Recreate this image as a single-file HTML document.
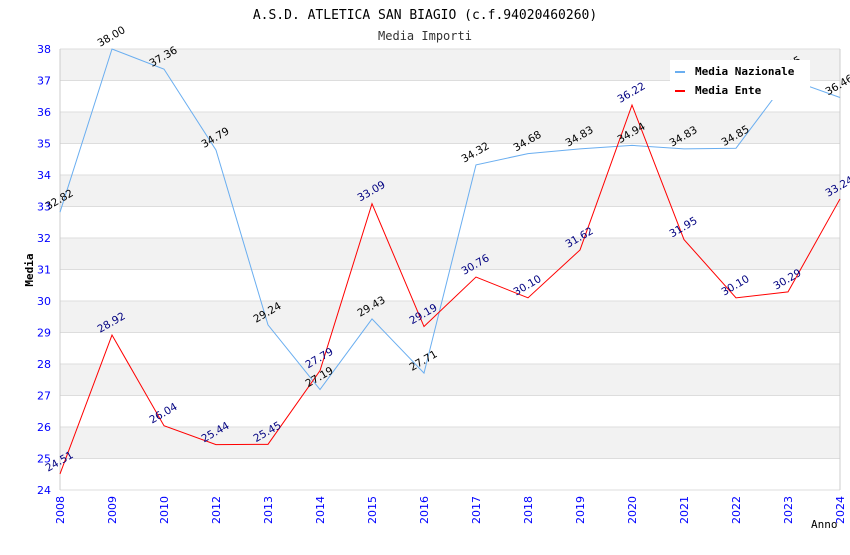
<!DOCTYPE html>
<html><head><meta charset="utf-8"><style>
body{margin:0;background:#fff;}
svg{font-family:"DejaVu Sans","Liberation Sans",sans-serif;}
</style></head><body>
<svg id="chart" width="850" height="550">
<text x="425" y="19" text-anchor="middle" font-family="DejaVu Sans Mono, Liberation Mono, monospace" font-size="13" fill="#000">A.S.D. ATLETICA SAN BIAGIO (c.f.94020460260)</text>
<text x="425" y="40" text-anchor="middle" font-family="DejaVu Sans Mono, Liberation Mono, monospace" font-size="12" fill="#333">Media Importi</text>
<g id="bands"></g><g id="axes"></g><g id="series"></g><g id="labels"></g>
<g>
<rect x="670" y="60" width="140" height="40" fill="#fff"/>
<line x1="675" y1="72" x2="685" y2="72" stroke="#6aaef0" stroke-width="2"/>
<text x="695" y="75" font-family="DejaVu Sans Mono, Liberation Mono, monospace" font-size="11" font-weight="bold">Media Nazionale</text>
<line x1="675" y1="91" x2="685" y2="91" stroke="#f00" stroke-width="2"/>
<text x="695" y="94" font-family="DejaVu Sans Mono, Liberation Mono, monospace" font-size="11" font-weight="bold">Media Ente</text>
</g>
<text x="33" y="270" transform="rotate(-90 33 270)" text-anchor="middle" font-family="DejaVu Sans Mono, Liberation Mono, monospace" font-size="11" font-weight="bold">Media</text>
<text x="811" y="528" font-family="DejaVu Sans Mono, Liberation Mono, monospace" font-size="11">Anno</text>
</svg>
<script>
const years=["2008","2009","2010","2012","2013","2014","2015","2016","2017","2018","2019","2020","2021","2022","2023","2024"];
const nazionale=[32.82,38.00,37.36,34.79,29.24,27.19,29.43,27.71,34.32,34.68,34.83,34.94,34.83,34.85,37.05,36.46];
const ente=[24.51,28.92,26.04,25.44,25.45,27.79,33.09,29.19,30.76,30.10,31.62,36.22,31.95,30.10,30.29,33.24];
const yTicks=[24,25,26,27,28,29,30,31,32,33,34,35,36,37,38];
const NS="http://www.w3.org/2000/svg";
const X0=60,X1=840,Y0=490,Y1=49,ymin=24,ymax=38;
const xs=i=>X0+i*(X1-X0)/(years.length-1);
const ys=v=>Y0-(v-ymin)*(Y0-Y1)/(ymax-ymin);
function mk(p,t,a){const e=document.createElementNS(NS,t);for(const k in a)e.setAttribute(k,a[k]);p.appendChild(e);return e;}
const bands=document.getElementById('bands'),axes=document.getElementById('axes'),series=document.getElementById('series'),labels=document.getElementById('labels');
for(let i=0;i<yTicks.length-1;i++){
  const a=yTicks[i],b=yTicks[i+1];
  const r=mk(bands,'rect',{x:X0,y:ys(b),width:X1-X0,height:ys(a)-ys(b),fill:(yTicks.length-2-i)%2===0?'#f2f2f2':'#fff'});
  
  
}
yTicks.forEach(v=>{
  const l=mk(axes,'line',{x1:X0,x2:X1,y1:ys(v),y2:ys(v),stroke:'#ddd'});
  
  
  const t=mk(axes,'text',{x:X0-9,y:ys(v)+4,'text-anchor':'end','font-size':11,fill:'#00f'});
  t.textContent=v;
  
  
});
mk(axes,'line',{x1:X0,x2:X0,y1:Y1,y2:Y0,stroke:'#ccc'});
mk(axes,'line',{x1:X1,x2:X1,y1:Y1,y2:Y0,stroke:'#ccc'});
years.forEach((y,i)=>{
  const t=mk(axes,'text',{x:xs(i)+4,y:Y0+6,'text-anchor':'end','font-size':11,fill:'#00f',transform:`rotate(-90 ${xs(i)+4} ${Y0+6})`});
  t.textContent=y;
  
  
});
function drawSeries(vals,color,lcolor,name){
  const p=mk(series,'polyline',{points:vals.map((v,i)=>xs(i)+','+ys(v)).join(' '),fill:'none',stroke:color,'stroke-width':1});
  
  
  vals.forEach((v,i)=>{
    const x=xs(i)-12,y=ys(v)-2;
    const t=mk(labels,'text',{x:x,y:y,'font-size':10.5,fill:lcolor,transform:`rotate(-30 ${x} ${y})`});
    t.textContent=v.toFixed(2);
    
    
  });
}
drawSeries(nazionale,'#6aaef0','#000','nazionale');
drawSeries(ente,'#f00','#000080','ente');
</script>
</body></html>
